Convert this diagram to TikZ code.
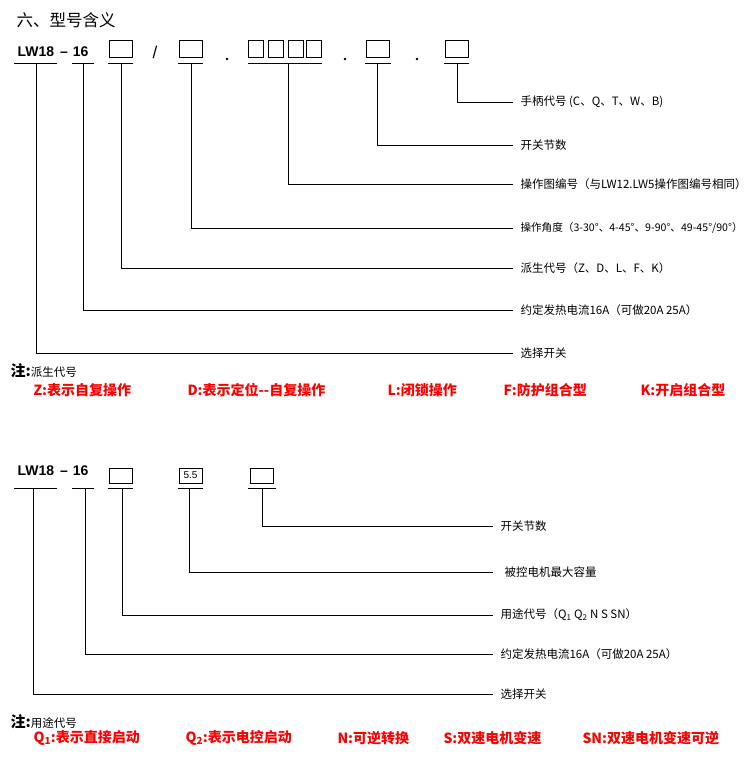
\documentclass[tikz,border=0pt]{standalone}
\usepackage{fontspec}
\setmainfont{Noto Sans CJK SC}
\newfontfamily\lwfont{Liberation Sans}

\begin{document}
\begin{tikzpicture}[x=1pt, y=-1pt, line width=1pt,
        cell/.style={draw, line width=1pt, minimum width=23pt, minimum height=17pt, inner sep=0pt},
        lbl/.style={anchor=west, inner xsep=7pt, inner ysep=1pt, font=\fontsize{11.5}{13}\selectfont},
        note/.style={anchor=west, inner sep=0pt, red, font=\bfseries\fontsize{14}{15}\selectfont},
        model/.style={anchor=west, inner sep=0pt, font=\lwfont\bfseries\fontsize{14}{14}\selectfont}]
        \useasboundingbox (0,0) rectangle (749,761);

        \node [anchor=west, inner sep=0pt, font=\fontsize{16.5}{17}\selectfont] (title) at (16,20) {六、型号含义};

        % first code
        \node [model] (lw1) at (17,52) {LW18\kern6pt–\kern5pt16};
        \node [cell] (b1) at (121,48.5) {};
        \node [inner sep=0pt, font=\lwfont\fontsize{17}{17}\selectfont] (sl) at (155,52) {/};
        \node [cell] (b2) at (190.5,48.5) {};
        \foreach \x [count=\i] in {256, 276, 296, 314}
        {
            \node [cell, minimum width=15pt] (c\i) at (\x,48.5) {};
        }
        \node [cell] (b4) at (377.5,48.5) {};
        \node [cell] (b5) at (456.5,48.5) {};
        \foreach \x in {227, 345, 417}
        {
            \fill (\x,59) circle (1.3);
        }

        \draw (14,63) -- (57,63);
        \draw (72,63) -- (94,63);
        \draw (108,63) -- (133,63);
        \draw (178,63) -- (203,63);
        \draw (248,63) -- (322,63);
        \draw (365,63) -- (391,63);
        \draw (444,63) -- (469,63);

        \coordinate (t1) at (36,63);
        \coordinate (t2) at (83,63);
        \coordinate (t3) at (121,63);
        \coordinate (t4) at (191,63);
        \coordinate (t5) at (288,63);
        \coordinate (t6) at (377,63);
        \coordinate (t7) at (457,63);

        \node [lbl] (l7) at (513,102) {手柄代号 (C、Q、T、W、B)};
        \node [lbl] (l6) at (513,145) {开关节数};
        \node [lbl] (l5) at (513,184) {操作图编号（与LW12.LW5操作图编号相同）};
        \node [lbl, font=\fontsize{10.6}{13}\selectfont] (l4) at (513,228) {操作角度（3-30°、4-45°、9-90°、49-45°/90°）};
        \node [lbl] (l3) at (513,268) {派生代号（Z、D、L、F、K）};
        \node [lbl] (l2) at (513,310) {约定发热电流16A（可做20A 25A）};
        \node [lbl] (l1) at (513,353) {选择开关};

        \foreach \i in {1,...,7}
        {
            \draw (t\i) |- (l\i.west);
        }

        \node [anchor=west, inner sep=0pt] (n1) at (10,371) {{\bfseries\fontsize{15}{15}\selectfont 注:}{\fontsize{11.5}{12}\selectfont 派生代号}};
        \node [note] (z) at (33,390) {Z:表示自复操作};
        \node [note] (d) at (187,390) {D:表示定位-{}-自复操作};
        \node [note] (l) at (387,390) {L:闭锁操作};
        \node [note] (f) at (503,390) {F:防护组合型};
        \node [note] (k) at (640,390) {K:开启组合型};

        % second code
        \node [model] (lw2) at (17,471) {LW18\kern6pt–\kern5pt16};
        \node [cell, minimum height=15pt] (d1) at (121,475.5) {};
        \node [cell, minimum height=15pt, font=\lwfont\fontsize{10}{10}\selectfont] (d2) at (190.5,475.5) {5.5};
        \node [cell, minimum height=15pt] (d3) at (262,475.5) {};

        \draw (14,488) -- (57,488);
        \draw (72,488) -- (94,488);
        \draw (108,488) -- (133,488);
        \draw (178,488) -- (203,488);
        \draw (248,488) -- (276,488);

        \coordinate (s1) at (33,488);
        \coordinate (s2) at (85,488);
        \coordinate (s3) at (122,488);
        \coordinate (s4) at (189,488);
        \coordinate (s5) at (262,488);

        \node [lbl] (m5) at (493,526) {开关节数};
        \node [lbl, inner xsep=11pt] (m4) at (493,572) {被控电机最大容量};
        \node [lbl] (m3) at (493,615) {用途代号（Q\textsubscript{1} Q\textsubscript{2} N S SN）};
        \node [lbl] (m2) at (493,654) {约定发热电流16A（可做20A 25A）};
        \node [lbl] (m1) at (493,694) {选择开关};

        \foreach \i in {1,...,5}
        {
            \draw (s\i) |- (m\i.west);
        }

        \node [anchor=west, inner sep=0pt] (n2) at (10,722) {{\bfseries\fontsize{15}{15}\selectfont 注:}{\fontsize{11.5}{12}\selectfont 用途代号}};
        \node [note] (q1) at (33,738) {Q\textsubscript{1}:表示直接启动};
        \node [note] (q2) at (185,738) {Q\textsubscript{2}:表示电控启动};
        \node [note] (nn) at (337,738) {N:可逆转换};
        \node [note] (ss) at (443,738) {S:双速电机变速};
        \node [note] (sn) at (582,738) {SN:双速电机变速可逆};
    \end{tikzpicture}
\end{document}
